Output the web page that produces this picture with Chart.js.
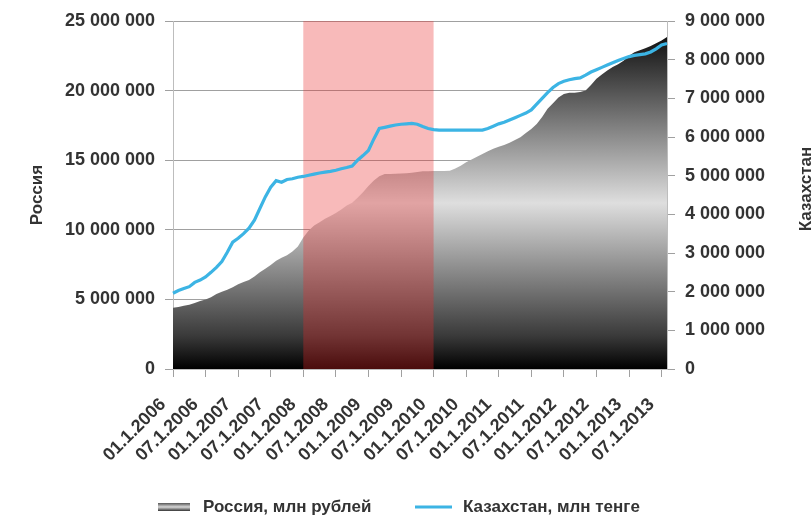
<!DOCTYPE html>
<html>
<head>
<meta charset="utf-8">
<script src="https://cdn.jsdelivr.net/npm/chart.js@4"></script>
<style>
  html, body { margin: 0; padding: 0; background: #ffffff; }
  #wrap { width: 812px; height: 518px; position: relative; }
</style>
</head>
<body>
<div id="wrap"><canvas id="c" width="812" height="518"></canvas></div>
<script>
// ---- Data ----
const startYear = 2006;
const monthCount = 92; // 01.2006 .. 08.2013
const months = [];
for (let i = 0; i < monthCount; i++) {
  const y = startYear + Math.floor(i / 12);
  const m = (i % 12) + 1;
  months.push((m < 10 ? '0' : '') + m + '.1.' + y);
}

const tickLabels = [
  '01.1.2006','07.1.2006','01.1.2007','07.1.2007','01.1.2008','07.1.2008',
  '01.1.2009','07.1.2009','01.1.2010','07.1.2010','01.1.2011','07.1.2011',
  '01.1.2012','07.1.2012','01.1.2013','07.1.2013'
];

const russiaLabel = 'Россия, млн рублей';
const kazakhLabel = 'Казахстан, млн тенге';

const russia = [
  4400000, 4450000, 4550000, 4620000, 4750000, 4880000, 5000000, 5150000, 5380000, 5550000, 5700000, 5880000,
  6080000, 6250000, 6400000, 6650000, 6950000, 7200000, 7480000, 7780000, 8000000, 8180000, 8450000, 8800000,
  9450000, 9950000, 10300000, 10550000, 10800000, 11000000, 11200000, 11450000, 11750000, 11950000, 12300000, 12700000,
  13150000, 13550000, 13850000, 14000000, 14000000, 14020000, 14050000, 14060000, 14100000, 14150000, 14200000, 14200000,
  14220000, 14220000, 14220000, 14250000, 14400000, 14600000, 14850000, 15050000, 15250000, 15450000, 15650000, 15820000,
  15970000, 16100000, 16250000, 16450000, 16650000, 16950000, 17250000, 17600000, 18100000, 18700000, 19100000, 19500000,
  19750000, 19850000, 19850000, 19900000, 20000000, 20400000, 20850000, 21150000, 21450000, 21700000, 21900000, 22150000,
  22500000, 22750000, 22900000, 23050000, 23200000, 23400000, 23600000, 23850000
];

const kazakhstan = [
  1960000, 2030000, 2080000, 2130000, 2240000, 2300000, 2380000, 2500000, 2630000, 2780000, 3020000, 3280000,
  3380000, 3500000, 3640000, 3850000, 4150000, 4450000, 4700000, 4870000, 4830000, 4900000, 4920000, 4960000,
  4980000, 5010000, 5040000, 5070000, 5090000, 5110000, 5140000, 5180000, 5210000, 5250000, 5400000, 5520000,
  5650000, 5950000, 6220000, 6250000, 6280000, 6310000, 6330000, 6340000, 6350000, 6330000, 6270000, 6220000,
  6190000, 6180000, 6180000, 6180000, 6180000, 6180000, 6180000, 6180000, 6180000, 6180000, 6220000, 6280000,
  6340000, 6380000, 6440000, 6500000, 6560000, 6620000, 6700000, 6850000, 7000000, 7150000, 7280000, 7380000,
  7440000, 7480000, 7510000, 7530000, 7600000, 7680000, 7740000, 7800000, 7860000, 7920000, 7980000, 8030000,
  8080000, 8110000, 8130000, 8150000, 8200000, 8280000, 8380000, 8420000
];

const crisisStart = '01.1.2008';
const crisisEnd = '01.1.2010';

const leftTitle = 'Россия';
const rightTitle = 'Казахстан';

// ---- Styles ----
const FONT = "'Liberation Sans', Arial, Helvetica, sans-serif";
const TXT = '#333333';
const GRID = '#a0a0a0';
const BORDER = '#bdbdbd';
const BLUE = '#3cb4e4';
const TICKFONT = { family: FONT, size: 18, weight: 'bold' };

function spaced(v) {
  return String(Math.round(v)).replace(/\B(?=(\d{3})+(?!\d))/g, ' ');
}

function areaGradient(context) {
  const chart = context.chart;
  const area = chart.chartArea;
  if (!area) return '#888';
  const yTop = chart.scales.y.getPixelForValue(Math.max.apply(null, russia));
  const g = chart.ctx.createLinearGradient(0, yTop, 0, area.bottom);
  g.addColorStop(0, '#111111');
  g.addColorStop(0.5, '#dedede');
  g.addColorStop(0.9, '#3a3a3a');
  g.addColorStop(1, '#000000');
  return g;
}

const crisisPlugin = {
  id: 'crisis',
  afterDatasetDraw(chart, args) {
    if (chart.data.datasets[args.index].label !== russiaLabel) return;
    const {ctx, chartArea} = chart;
    const xs = chart.scales.x;
    const x0 = xs.getPixelForValue(months.indexOf(crisisStart));
    const x1 = xs.getPixelForValue(months.indexOf(crisisEnd));
    ctx.save();
    ctx.fillStyle = 'rgba(232, 40, 40, 0.32)';
    ctx.fillRect(x0, chartArea.top, x1 - x0, chartArea.bottom - chartArea.top);
    ctx.restore();
  }
};

const extrasPlugin = {
  id: 'extras',
  afterDraw(chart) {
    const {ctx, chartArea} = chart;
    ctx.save();
    ctx.font = 'bold 17px ' + FONT;
    ctx.fillStyle = TXT;
    ctx.textBaseline = 'middle';
    // right axis title (reads bottom-to-top)
    ctx.save();
    ctx.translate(806, (chartArea.top + chartArea.bottom) / 2 - 6);
    ctx.rotate(-Math.PI / 2);
    ctx.textAlign = 'center';
    ctx.fillText(rightTitle, 0, 0);
    ctx.restore();

    // legend
    const ly = 507;
    const sw = ctx.createLinearGradient(0, ly - 4, 0, ly + 4);
    sw.addColorStop(0, '#555555');
    sw.addColorStop(0.5, '#d8d8d8');
    sw.addColorStop(1, '#333333');
    ctx.fillStyle = sw;
    ctx.fillRect(158, ly - 4, 32, 8);
    ctx.fillStyle = TXT;
    ctx.textAlign = 'left';
    ctx.fillText(russiaLabel, 203, ly);

    ctx.strokeStyle = BLUE;
    ctx.lineWidth = 3;
    ctx.beginPath();
    ctx.moveTo(415, ly);
    ctx.lineTo(452, ly);
    ctx.stroke();
    ctx.fillText(kazakhLabel, 463, ly);
    ctx.restore();
  }
};

new Chart(document.getElementById('c'), {
  type: 'line',
  data: {
    labels: months,
    datasets: [
      {
        label: kazakhLabel,
        data: kazakhstan,
        yAxisID: 'y1',
        borderColor: BLUE,
        borderWidth: 3.2,
        pointRadius: 0,
        fill: false,
        tension: 0,
        order: 1
      },
      {
        label: russiaLabel,
        data: russia,
        yAxisID: 'y',
        borderWidth: 0,
        borderColor: 'rgba(0,0,0,0)',
        backgroundColor: areaGradient,
        pointRadius: 0,
        fill: 'origin',
        tension: 0,
        order: 2
      }
    ]
  },
  options: {
    responsive: false,
    animation: false,
    layout: { padding: { top: 21, bottom: 39, left: 0, right: 0 } },
    plugins: {
      legend: { display: false },
      tooltip: { enabled: false }
    },
    scales: {
      x: {
        type: 'category',
        offset: false,
        grid: { display: true, drawOnChartArea: false, drawTicks: true, tickLength: 8, color: GRID },
        border: { display: true, color: BORDER },
        ticks: {
          autoSkip: false,
          minRotation: 45,
          maxRotation: 45,
          padding: 17,
          labelOffset: -10,
          color: TXT,
          font: TICKFONT,
          callback: function (v, i) {
            const l = months[i];
            return tickLabels.indexOf(l) >= 0 ? l : null;
          }
        },
        afterFit: function (s) { s.height = 110; }
      },
      y: {
        position: 'left',
        min: 0,
        max: 25000000,
        grid: { color: GRID, tickLength: 8 },
        border: { display: true, color: BORDER },
        ticks: {
          stepSize: 5000000,
          padding: 10,
          color: TXT,
          font: TICKFONT,
          callback: function (v) { return spaced(v); }
        },
        title: {
          display: true,
          text: leftTitle,
          color: TXT,
          font: { family: FONT, size: 17, weight: 'bold' },
          padding: { top: 27, bottom: 0 }
        },
        afterFit: function (s) { s.width = 173; }
      },
      y1: {
        position: 'right',
        min: 0,
        max: 9000000,
        grid: { drawOnChartArea: false, color: GRID, tickLength: 8 },
        border: { display: true, color: BORDER },
        ticks: {
          stepSize: 1000000,
          padding: 10,
          color: TXT,
          font: TICKFONT,
          callback: function (v) { return spaced(v); }
        },
        afterFit: function (s) { s.width = 145; }
      }
    }
  },
  plugins: [crisisPlugin, extrasPlugin]
});
</script>
</body>
</html>
